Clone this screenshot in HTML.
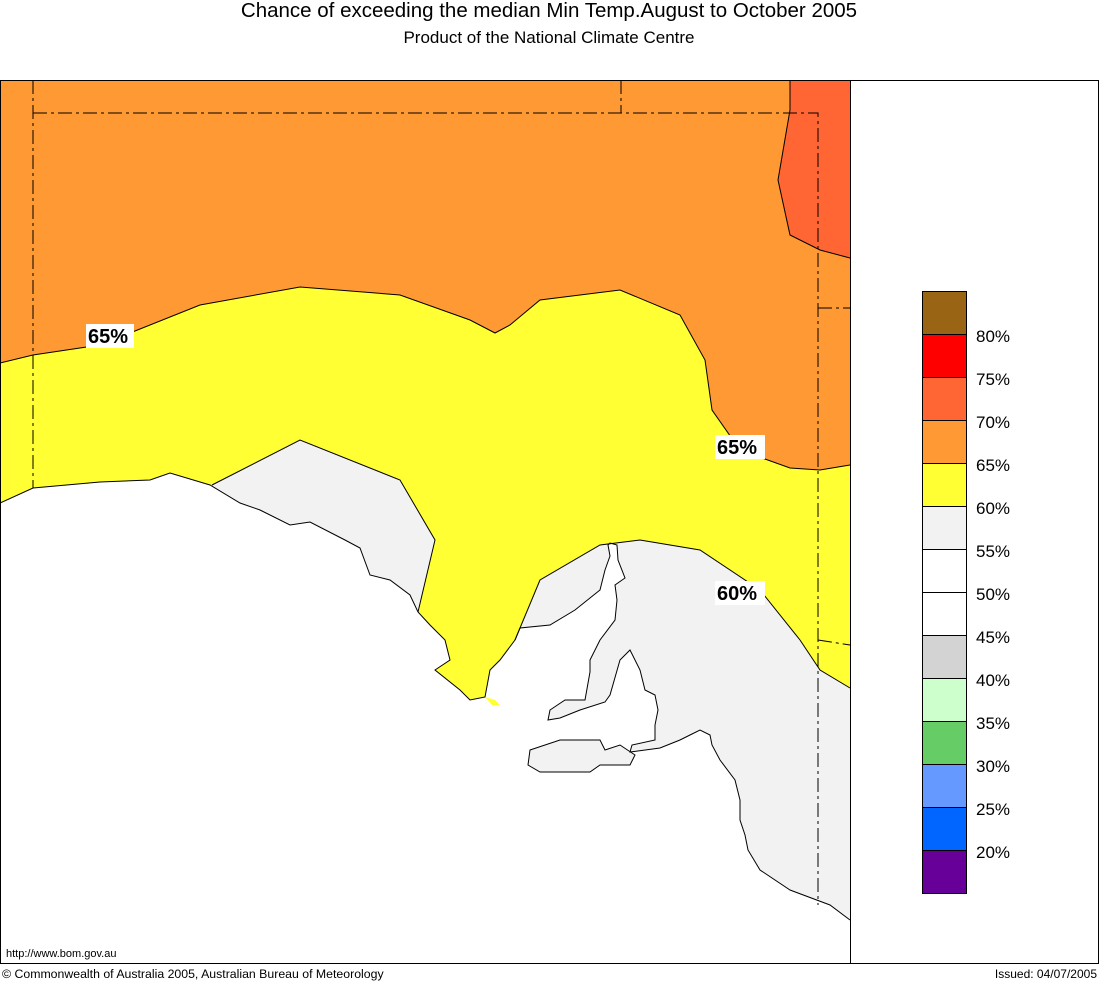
<!DOCTYPE html>
<html><head><meta charset="utf-8"><style>
html,body{margin:0;padding:0;background:#fff;}
svg{display:block;font-family:"Liberation Sans",sans-serif;}
</style></head><body>
<svg width="1099" height="982" viewBox="0 0 1099 982" xmlns="http://www.w3.org/2000/svg">
<rect width="1099" height="982" fill="#fff"/>
<text x="549" y="17" font-size="20.5" text-anchor="middle">Chance of exceeding the median Min Temp.August to October 2005</text>
<text x="549" y="43" font-size="17" text-anchor="middle">Product of the National Climate Centre</text>
<defs>
<clipPath id="land">
<path d="M0,80 L850,80 L850,920 L830,905 L790,890 L760,870 L748,850 L745,835 L740,820 L740,800 L735,780 L720,760 L712,745 L710,735 L700,730 L690,735 L680,740 L660,748 L630,752 L632,745 L655,740 L655,725 L658,710 L655,695 L645,690 L640,670 L630,650 L625,655 L620,660 L610,695 L605,702 L580,710 L560,718 L548,720 L550,710 L565,700 L585,700 L590,672 L590,660 L600,640 L615,620 L617,600 L615,585 L625,578 L618,560 L617,545 L610,543 L608,545 L610,556 L605,570 L600,590 L575,610 L550,625 L520,628 L515,640 L500,660 L490,670 L485,697 L470,700 L460,690 L435,670 L450,660 L445,640 L430,625 L418,612 L410,595 L390,580 L370,575 L360,548 L345,540 L310,522 L290,525 L260,510 L240,503 L210,485 L170,473 L150,480 L100,482 L33,488 L0,503 Z"/>
<path d="M530,750 L560,740 L600,740 L605,750 L620,745 L635,755 L630,765 L600,765 L590,772 L540,772 L528,765 Z"/>
<path d="M485,697 L495,700 L500,705 L492,705 Z"/>
</clipPath>
</defs>
<g clip-path="url(#land)">
<rect x="0" y="80" width="850" height="883" fill="#ffff33"/>
<path d="M212,485 L300,440 L400,480 L435,540 L418,612 L418,720 L200,720 Z" fill="#f2f2f2"/>
<path d="M515,640 L540,580 L600,545 L640,540 L700,550 L760,590 L800,640 L820,670 L850,688 L850,963 L515,963 Z" fill="#f2f2f2"/>
<path d="M0,80 L850,80 L850,465 L820,470 L790,468 L740,450 L712,410 L705,360 L680,315 L620,290 L540,300 L510,325 L495,333 L470,320 L400,295 L300,287 L200,305 L100,345 L33,355 L0,363 Z" fill="#ff9933"/>
<path d="M790,80 L850,80 L850,258 L820,250 L790,235 L778,180 L790,110 Z" fill="#ff6633"/>
</g>
<g fill="none" stroke="#000" stroke-width="1">
<path d="M0,363 L33,355 L100,345 L200,305 L300,287 L400,295 L470,320 L495,333 L510,325 L540,300 L620,290 L680,315 L705,360 L712,410 L740,450 L790,468 L820,470 L850,465"/>
<path d="M790,80 L790,110 L778,180 L790,235 L820,250 L850,258"/>
<path d="M212,485 L300,440 L400,480 L435,540 L418,612"/>
<path d="M515,640 L540,580 L600,545 L640,540 L700,550 L760,590 L800,640 L820,670 L850,688"/>
<path d="M850,920 L830,905 L790,890 L760,870 L748,850 L745,835 L740,820 L740,800 L735,780 L720,760 L712,745 L710,735 L700,730 L690,735 L680,740 L660,748 L630,752 L632,745 L655,740 L655,725 L658,710 L655,695 L645,690 L640,670 L630,650 L625,655 L620,660 L610,695 L605,702 L580,710 L560,718 L548,720 L550,710 L565,700 L585,700 L590,672 L590,660 L600,640 L615,620 L617,600 L615,585 L625,578 L618,560 L617,545 L610,543 L608,545 L610,556 L605,570 L600,590 L575,610 L550,625 L520,628 L515,640 L500,660 L490,670 L485,697 L470,700 L460,690 L435,670 L450,660 L445,640 L430,625 L418,612 L410,595 L390,580 L370,575 L360,548 L345,540 L310,522 L290,525 L260,510 L240,503 L210,485 L170,473 L150,480 L100,482 L33,488 L0,503"/>
<path d="M530,750 L560,740 L600,740 L605,750 L620,745 L635,755 L630,765 L600,765 L590,772 L540,772 L528,765 Z"/>
<path d="M33,80 L33,488 M33,113 L818,113 L818,905 M621,80 L621,113 M818,308 L850,308 M818,640 L850,645" stroke-dasharray="14,4,3,4"/>
</g>
<rect x="0.5" y="80.5" width="850" height="883" fill="none" stroke="#000"/>
<rect x="850.5" y="80.5" width="248" height="883" fill="none" stroke="#000"/>
<g font-size="20" font-weight="bold">
<rect x="86" y="324" width="48" height="24" fill="#fff"/><text x="88" y="343">65%</text>
<rect x="715" y="435" width="50" height="24" fill="#fff"/><text x="717" y="454">65%</text>
<rect x="715" y="581" width="50" height="24" fill="#fff"/><text x="717" y="600">60%</text>
</g>
<g stroke="#000" stroke-width="1">
<rect x="922.5" y="291.5" width="44" height="43" fill="#996515"/>
<rect x="922.5" y="334.5" width="44" height="43" fill="#ff0000"/>
<rect x="922.5" y="377.5" width="44" height="43" fill="#ff6633"/>
<rect x="922.5" y="420.5" width="44" height="43" fill="#ff9933"/>
<rect x="922.5" y="463.5" width="44" height="43" fill="#ffff33"/>
<rect x="922.5" y="506.5" width="44" height="43" fill="#f2f2f2"/>
<rect x="922.5" y="549.5" width="44" height="43" fill="#ffffff"/>
<rect x="922.5" y="592.5" width="44" height="43" fill="#ffffff"/>
<rect x="922.5" y="635.5" width="44" height="43" fill="#d3d3d3"/>
<rect x="922.5" y="678.5" width="44" height="43" fill="#ccffcc"/>
<rect x="922.5" y="721.5" width="44" height="43" fill="#66cc66"/>
<rect x="922.5" y="764.5" width="44" height="43" fill="#6699ff"/>
<rect x="922.5" y="807.5" width="44" height="43" fill="#0066ff"/>
<rect x="922.5" y="850.5" width="44" height="43" fill="#660099"/>
</g>
<g font-size="17">
<text x="976" y="342">80%</text><text x="976" y="385">75%</text><text x="976" y="428">70%</text>
<text x="976" y="471">65%</text><text x="976" y="514">60%</text><text x="976" y="557">55%</text>
<text x="976" y="600">50%</text><text x="976" y="643">45%</text><text x="976" y="686">40%</text>
<text x="976" y="729">35%</text><text x="976" y="772">30%</text><text x="976" y="815">25%</text>
<text x="976" y="858">20%</text>
</g>
<text x="6" y="957" font-size="11">http://www.bom.gov.au</text>
<text x="2" y="978" font-size="12.3">© Commonwealth of Australia 2005, Australian Bureau of Meteorology</text>
<text x="1097" y="978" font-size="12" text-anchor="end">Issued: 04/07/2005</text>
</svg>
</body></html>
